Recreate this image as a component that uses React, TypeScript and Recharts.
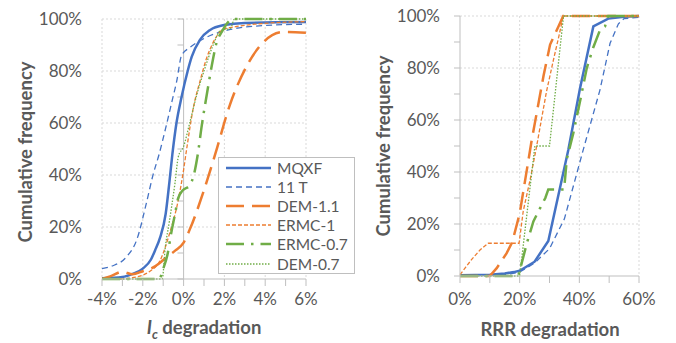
import { LineChart, Line, XAxis, YAxis, CartesianGrid, ReferenceLine } from "recharts";

const FONT = "Lato, 'Open Sans', sans-serif";
const TEXT = "#595959";
const AXIS = "#BFBFBF";
const GRID = "#D9D9D9";

// series, in drawing order
const seriesNames = ["MQXF", "11 T", "DEM-1.1", "ERMC-1", "ERMC-0.7", "DEM-0.7"];

// left panel: Ic degradation (%) vs cumulative frequency (%)
const mqxfIcX = [-4, -3, -2.5, -2, -1.6, -1.4, -1.15, -0.88, -0.7, -0.55, -0.35, -0.1, 0.2, 0.4, 0.8, 1.3, 2, 3, 6];
const mqxfIcY = [0.3, 0.8, 2, 4, 7.5, 11, 16, 25, 37, 48, 60, 70, 80, 85.5, 92, 95.8, 97.7, 98.5, 98.8];
const t11IcX = [-4, -3.5, -2.8, -2.3, -1.8, -1.5, -1.2, -0.85, -0.55, -0.34, -0.1, 0.3, 1, 2.3, 4, 6];
const t11IcY = [4, 5, 8.5, 15, 30, 40, 48, 59, 69, 76, 86, 89, 92.5, 96, 97.5, 98];
const dem11IcX = [-4, -3.6, -3, -2.5, -2, -1.6, -1.2, -0.8, -0.4, 0, 0.3, 0.95, 1.55, 2.27, 3.1, 3.9, 4.9, 6];
const dem11IcY = [0, 1, 2.8, 1.8, 3, 4, 6, 8.6, 11, 14, 19, 33, 48, 67, 82, 91, 95, 94.7];
const ermc1IcX = [-4, -3, -2.5, -2, -1.65, -1.16, -0.67, -0.27, 0, 0.15, 0.48, 0.8, 1.13, 1.45, 1.94, 2.5, 3.5, 6];
const ermc1IcY = [0, 0, 0.5, 1.5, 3, 7, 18, 30, 42, 50, 66, 76, 85, 91, 96, 97, 98, 99];
const ermc07IcX = [-4, -1.2, -1, -0.8, -0.6, -0.42, -0.27, -0.05, 0.3, 0.5, 0.69, 0.89, 1.16, 1.38, 1.62, 1.87, 2.1, 2.4, 6];
const ermc07IcY = [0, 0, 4, 9, 18, 25, 31, 34, 36, 40, 47.7, 59, 72, 82, 91, 95, 98, 100, 100];
const dem07IcX = [-4, -1.05, -0.9, -0.7, -0.42, -0.26, 0, 0.3, 0.65, 1, 1.45, 1.8, 2.3, 2.5, 6];
const dem07IcY = [0, 0, 12, 22, 37, 47, 51, 60, 71, 80, 90, 95.5, 96.5, 100, 100];

// right panel: RRR degradation (%) vs cumulative frequency (%)
const mqxfRrrX = [0, 10, 15, 18, 20, 25, 29.6, 36.3, 40.2, 44.7, 49.7, 55, 60];
const mqxfRrrY = [0.3, 0.5, 1, 1.5, 2, 5.5, 13.5, 48.5, 72, 96, 99, 99.7, 100];
const t11RrrX = [0, 15, 20, 25, 30, 35, 41.3, 46.9, 50.3, 53.1, 55, 60];
const t11RrrY = [0, 0.5, 1.5, 5, 10.5, 22, 48.5, 71.5, 89.5, 97, 99, 99.5];
const dem11RrrX = [0, 10, 12.3, 15.6, 17.5, 20, 24, 28, 30.2, 33, 34.6, 60];
const dem11RrrY = [0, 0, 3, 8.7, 13, 24, 52, 77, 89, 96, 100, 100];
const ermc1RrrX = [0, 2, 4, 6.7, 9.5, 19.8, 21.2, 23.5, 25.7, 29, 31.3, 33.3, 34.6, 60];
const ermc1RrrY = [0.5, 3.5, 6.5, 10, 12.6, 12.6, 25, 37, 50, 71, 83, 93, 100, 100];
const ermc07RrrX = [0, 19.5, 20.7, 22.4, 24.6, 26.8, 28.6, 29.6, 34.9, 35.8, 38, 40.2, 42.5, 44.7, 46.9, 48.6, 49.7, 60];
const ermc07RrrY = [0, 0, 5, 12.6, 21, 26, 30, 33.3, 33.3, 45, 55, 67, 80, 88, 94.5, 96, 100, 100];
const dem07RrrX = [0, 20, 25.1, 30, 34.7, 60];
const dem07RrrY = [0, 0, 50, 50, 100, 100];

const icTicks = [-4, -3, -2, -1, 0, 1, 2, 3, 4, 5, 6];
const icGrid = [-4, -2, 2, 4, 6];
const rrrTicks = [0, 10, 20, 30, 40, 50, 60];
const rrrGrid = [20, 40, 60];
const freqTicks = [0, 10, 20, 30, 40, 50, 60, 70, 80, 90, 100];
const freqLabels = [0, 20, 40, 60, 80, 100];
const freqGrid = [20, 40, 60, 80, 100];

const pts = (xs: number[], ys: number[]) => xs.map((x, i) => ({ x, y: ys[i] }));

const icSeries = [
  pts(mqxfIcX, mqxfIcY),
  pts(t11IcX, t11IcY),
  pts(dem11IcX, dem11IcY),
  pts(ermc1IcX, ermc1IcY),
  pts(ermc07IcX, ermc07IcY),
  pts(dem07IcX, dem07IcY),
];
const rrrSeries = [
  pts(mqxfRrrX, mqxfRrrY),
  pts(t11RrrX, t11RrrY),
  pts(dem11RrrX, dem11RrrY),
  pts(ermc1RrrX, ermc1RrrY),
  pts(ermc07RrrX, ermc07RrrY),
  pts(dem07RrrX, dem07RrrY),
];

const lineStyles = [
  { color: "#4472C4", width: 2.5, dash: undefined },
  { color: "#4472C4", width: 1.3, dash: "6 4" },
  { color: "#ED7D31", width: 2.5, dash: "18 8" },
  { color: "#ED7D31", width: 1.3, dash: "4 2" },
  { color: "#70AD47", width: 2.5, dash: "18 7 2.5 7" },
  { color: "#70AD47", width: 1.3, dash: "1.5 1.5" },
];

const tickStyle = { fill: TEXT, fontSize: 17, fontFamily: FONT };
const pct = (v: number) => `${v}%`;
const evenPct = (step: number) => (v: number) => (v % step === 0 ? `${v}%` : "");

function Legend() {
  return (
    <div
      style={{
        position: "absolute",
        left: 218,
        top: 157,
        height: 117,
        border: `1px solid ${AXIS}`,
        background: "#fff",
        padding: "0 6px 0 7px",
        boxSizing: "border-box",
      }}
    >
      {seriesNames.map((name, i) => (
        <div key={name} style={{ display: "flex", alignItems: "center", height: 19.2 }}>
          <svg width={45} height={6} style={{ marginRight: 6 }}>
            <line
              x1={0}
              y1={3}
              x2={45}
              y2={3}
              stroke={lineStyles[i].color}
              strokeWidth={lineStyles[i].width}
              strokeDasharray={lineStyles[i].dash}
            />
          </svg>
          <span style={{ fontSize: 15.5, color: TEXT, whiteSpace: "nowrap" }}>{name}</span>
        </div>
      ))}
    </div>
  );
}

const titleStyle = {
  position: "absolute" as const,
  fontWeight: 700,
  fontSize: 18.5,
  color: TEXT,
  whiteSpace: "nowrap" as const,
  transform: "translate(-50%, -50%)",
};

export default function App() {
  return (
    <div
      style={{
        position: "absolute",
        left: 0,
        top: 0,
        width: 676,
        height: 343,
        background: "#fff",
        fontFamily: FONT,
        overflow: "hidden",
      }}
    >
      <div style={{ position: "absolute", left: 0, top: 0 }}>
        <LineChart width={338} height={343} margin={{ top: 19, right: 32, bottom: 34, left: 0 }}>
          <CartesianGrid
            stroke={GRID}
            strokeDasharray="2 2"
            horizontalValues={freqGrid}
            verticalValues={icGrid}
          />
          <XAxis
            dataKey="x"
            type="number"
            domain={[-4, 6]}
            ticks={icTicks}
            tickFormatter={evenPct(2)}
            tick={tickStyle}
            tickSize={7}
            tickMargin={7}
            height={30}
            axisLine={{ stroke: AXIS }}
            tickLine={{ stroke: AXIS }}
            interval={0}
            allowDecimals
          />
          <YAxis
            dataKey="y"
            type="number"
            domain={[0, 100]}
            ticks={freqLabels}
            tickFormatter={pct}
            tick={tickStyle}
            width={102}
            tickSize={6}
            tickMargin={14}
            axisLine={false}
            tickLine={false}
            interval={0}
          />
          <ReferenceLine x={0} stroke={AXIS} strokeWidth={1} />
          {freqTicks.map((v) => (
            <ReferenceLine
              key={v}
              segment={[
                { x: -0.3, y: v },
                { x: 0, y: v },
              ]}
              stroke={AXIS}
            />
          ))}
          {icSeries.map((data, i) => (
            <Line
              key={seriesNames[i]}
              data={data}
              dataKey="y"
              type="monotone"
              stroke={lineStyles[i].color}
              strokeWidth={lineStyles[i].width}
              strokeDasharray={lineStyles[i].dash}
              dot={false}
              activeDot={false}
              isAnimationActive={false}
            />
          ))}
        </LineChart>
      </div>

      <div style={{ position: "absolute", left: 338, top: 0 }}>
        <LineChart width={338} height={343} margin={{ top: 16, right: 37, bottom: 37, left: 0 }}>
          <CartesianGrid
            stroke={GRID}
            strokeDasharray="2 2"
            horizontalValues={freqGrid}
            verticalValues={rrrGrid}
          />
          <XAxis
            dataKey="x"
            type="number"
            domain={[0, 60]}
            ticks={rrrTicks}
            tickFormatter={evenPct(20)}
            tick={tickStyle}
            tickSize={7}
            tickMargin={10}
            height={30}
            axisLine={{ stroke: AXIS }}
            tickLine={{ stroke: AXIS }}
            interval={0}
          />
          <YAxis
            dataKey="y"
            type="number"
            domain={[0, 100]}
            ticks={freqTicks}
            tickFormatter={evenPct(20)}
            tick={tickStyle}
            width={122}
            tickSize={6}
            tickMargin={14}
            axisLine={{ stroke: AXIS }}
            tickLine={{ stroke: AXIS }}
            interval={0}
          />
          {rrrSeries.map((data, i) => (
            <Line
              key={seriesNames[i]}
              data={data}
              dataKey="y"
              type="linear"
              stroke={lineStyles[i].color}
              strokeWidth={lineStyles[i].width}
              strokeDasharray={lineStyles[i].dash}
              dot={false}
              activeDot={false}
              isAnimationActive={false}
            />
          ))}
        </LineChart>
      </div>

      <Legend />

      <div style={{ ...titleStyle, left: 25, top: 152, transform: "translate(-50%, -50%) rotate(-90deg)" }}>
        Cumulative frequency
      </div>
      <div style={{ ...titleStyle, left: 383, top: 146, transform: "translate(-50%, -50%) rotate(-90deg)" }}>
        Cumulative frequency
      </div>
      <div style={{ ...titleStyle, left: 204, top: 329 }}>
        <i>I</i>
        <sub style={{ fontSize: 13 }}>
          <i>c</i>
        </sub>{" "}
        degradation
      </div>
      <div style={{ ...titleStyle, left: 550, top: 329 }}>RRR degradation</div>
    </div>
  );
}
